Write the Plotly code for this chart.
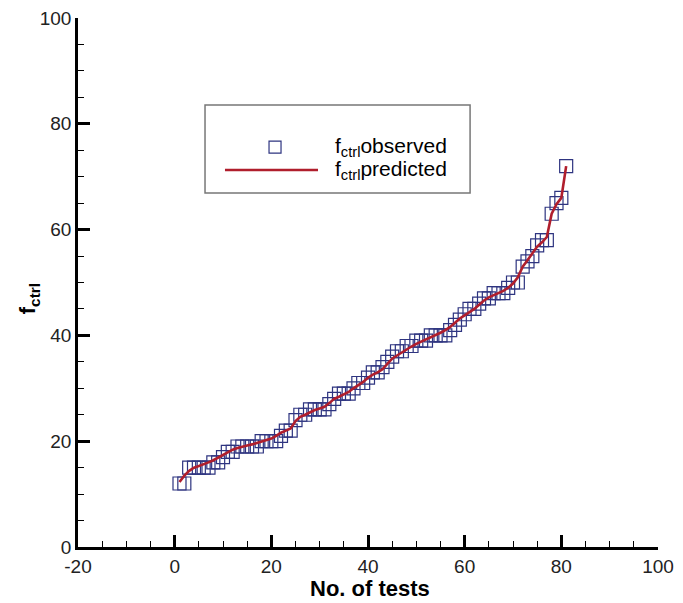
import plotly.graph_objects as go

# Test index and control-factor values (observed, sorted ascending) and model predictions
test_no = list(range(1, 82))
f_observed = [
    12, 12, 15, 15, 15, 15, 15, 16, 16, 17,
    18, 18, 19, 19, 19, 19, 19, 20, 20, 20,
    20, 21, 22, 22, 24, 25, 25, 26, 26, 26,
    26, 27, 28, 29, 29, 29, 30, 31, 31, 32,
    33, 33, 34, 35, 36, 37, 37, 38, 38, 39,
    39, 39, 40, 40, 40, 40, 41, 42, 43, 44,
    45, 45, 46, 47, 47, 48, 48, 48, 49, 50,
    50, 53, 54, 55, 57, 58, 58, 63, 65, 66,
    72,
]
f_predicted = [
    12.3, 13.5, 14.4, 15.0, 15.3, 15.6, 16.0, 16.4, 16.9, 17.5,
    18.0, 18.4, 18.7, 19.0, 19.2, 19.4, 19.7, 20.0, 20.2, 20.5,
    21.0, 21.6, 22.0, 22.4, 23.8, 24.6, 25.0, 25.5, 25.9, 26.2,
    26.5, 27.2, 28.0, 28.4, 28.8, 29.3, 30.0, 30.6, 31.2, 32.0,
    32.6, 33.0, 33.6, 34.6, 35.6, 36.2, 36.8, 37.4, 37.9, 38.4,
    38.8, 39.2, 39.6, 40.0, 40.5, 41.0, 41.6, 42.4, 43.2, 43.8,
    44.4, 45.0, 45.8, 46.6, 47.2, 47.6, 48.0, 48.4, 49.0, 49.8,
    51.0, 53.0, 54.2, 55.4, 56.8, 57.6, 58.6, 63.0, 64.8, 66.0,
    72.0,
]

x_ticks = [-20, 0, 20, 40, 60, 80, 100]
x_tick_text = ["-20", "0", "20", "40", "60", "80", "100"]
y_ticks = [0, 20, 40, 60, 80, 100]

MARKER_COLOR = "#2e3480"
LINE_COLOR = "#b01e2c"
FONT = "Liberation Sans, Arial, sans-serif"

fig = go.Figure()

fig.add_trace(go.Scatter(
    x=test_no, y=f_observed, mode="markers",
    marker=dict(symbol="square-open", size=13, color=MARKER_COLOR,
                line=dict(width=1.2, color=MARKER_COLOR)),
    showlegend=False,
))
fig.add_trace(go.Scatter(
    x=test_no, y=f_predicted, mode="lines",
    line=dict(color=LINE_COLOR, width=2.6),
    showlegend=False,
))

axis_common = dict(
    showgrid=False, zeroline=False, showline=True, linecolor="black",
    linewidth=2.5, ticks="inside", ticklen=12, tickwidth=2.5,
    tickcolor="black", tickfont=dict(family=FONT, size=19, color="#222"),
    mirror=False, automargin=False,
)

fig.update_xaxes(
    range=[-20, 100], tickvals=x_ticks, ticktext=x_tick_text, **axis_common,
    minor=dict(dtick=5, ticks="inside", ticklen=6, tickwidth=1.3, tickcolor="black"),
)
fig.update_yaxes(
    range=[0, 100], tickvals=y_ticks, **axis_common,
    minor=dict(dtick=5, ticks="inside", ticklen=6, tickwidth=1.3, tickcolor="black"),
)

# Legend panel drawn in paper coordinates
shapes = [
    dict(type="rect", xref="paper", yref="paper", x0=0.219, x1=0.676, y0=0.669, y1=0.8355,
         line=dict(color="#777", width=1.5), fillcolor="white", layer="above"),
    dict(type="line", xref="paper", yref="paper", x0=0.2534, x1=0.4138, y0=0.7127, y1=0.7127,
         line=dict(color=LINE_COLOR, width=2.6), layer="above"),
    dict(type="rect", xref="paper", yref="paper", xsizemode="pixel", ysizemode="pixel",
         xanchor=0.3397, yanchor=0.756, x0=-6, x1=6, y0=-6, y1=6,
         line=dict(color=MARKER_COLOR, width=1.2), fillcolor="rgba(0,0,0,0)", layer="above"),
]
annotations = [
    dict(xref="paper", yref="paper", x=0.4397, y=0.756, xanchor="left", yanchor="middle",
         text="f<sub>ctrl</sub>observed", showarrow=False,
         font=dict(family=FONT, size=21, color="black")),
    dict(xref="paper", yref="paper", x=0.4397, y=0.7127, xanchor="left", yanchor="middle",
         text="f<sub>ctrl</sub>predicted", showarrow=False,
         font=dict(family=FONT, size=21, color="black")),
    # axis titles
    dict(xref="paper", yref="paper", x=0.503, y=-0.078, xanchor="center", yanchor="middle",
         text="<b>No. of tests</b>", showarrow=False,
         font=dict(family=FONT, size=22, color="black")),
    dict(xref="paper", yref="paper", x=-0.083, y=0.47, xanchor="center", yanchor="middle",
         text="<b>f<sub>ctrl</sub></b>", showarrow=False, textangle=-90,
         font=dict(family=FONT, size=22, color="black")),
]

fig.update_layout(
    width=683, height=603,
    margin=dict(l=78, r=25, t=18, b=56),
    plot_bgcolor="white", paper_bgcolor="white",
    shapes=shapes, annotations=annotations,
    font=dict(family=FONT),
)

fig.write_html("out.html")
